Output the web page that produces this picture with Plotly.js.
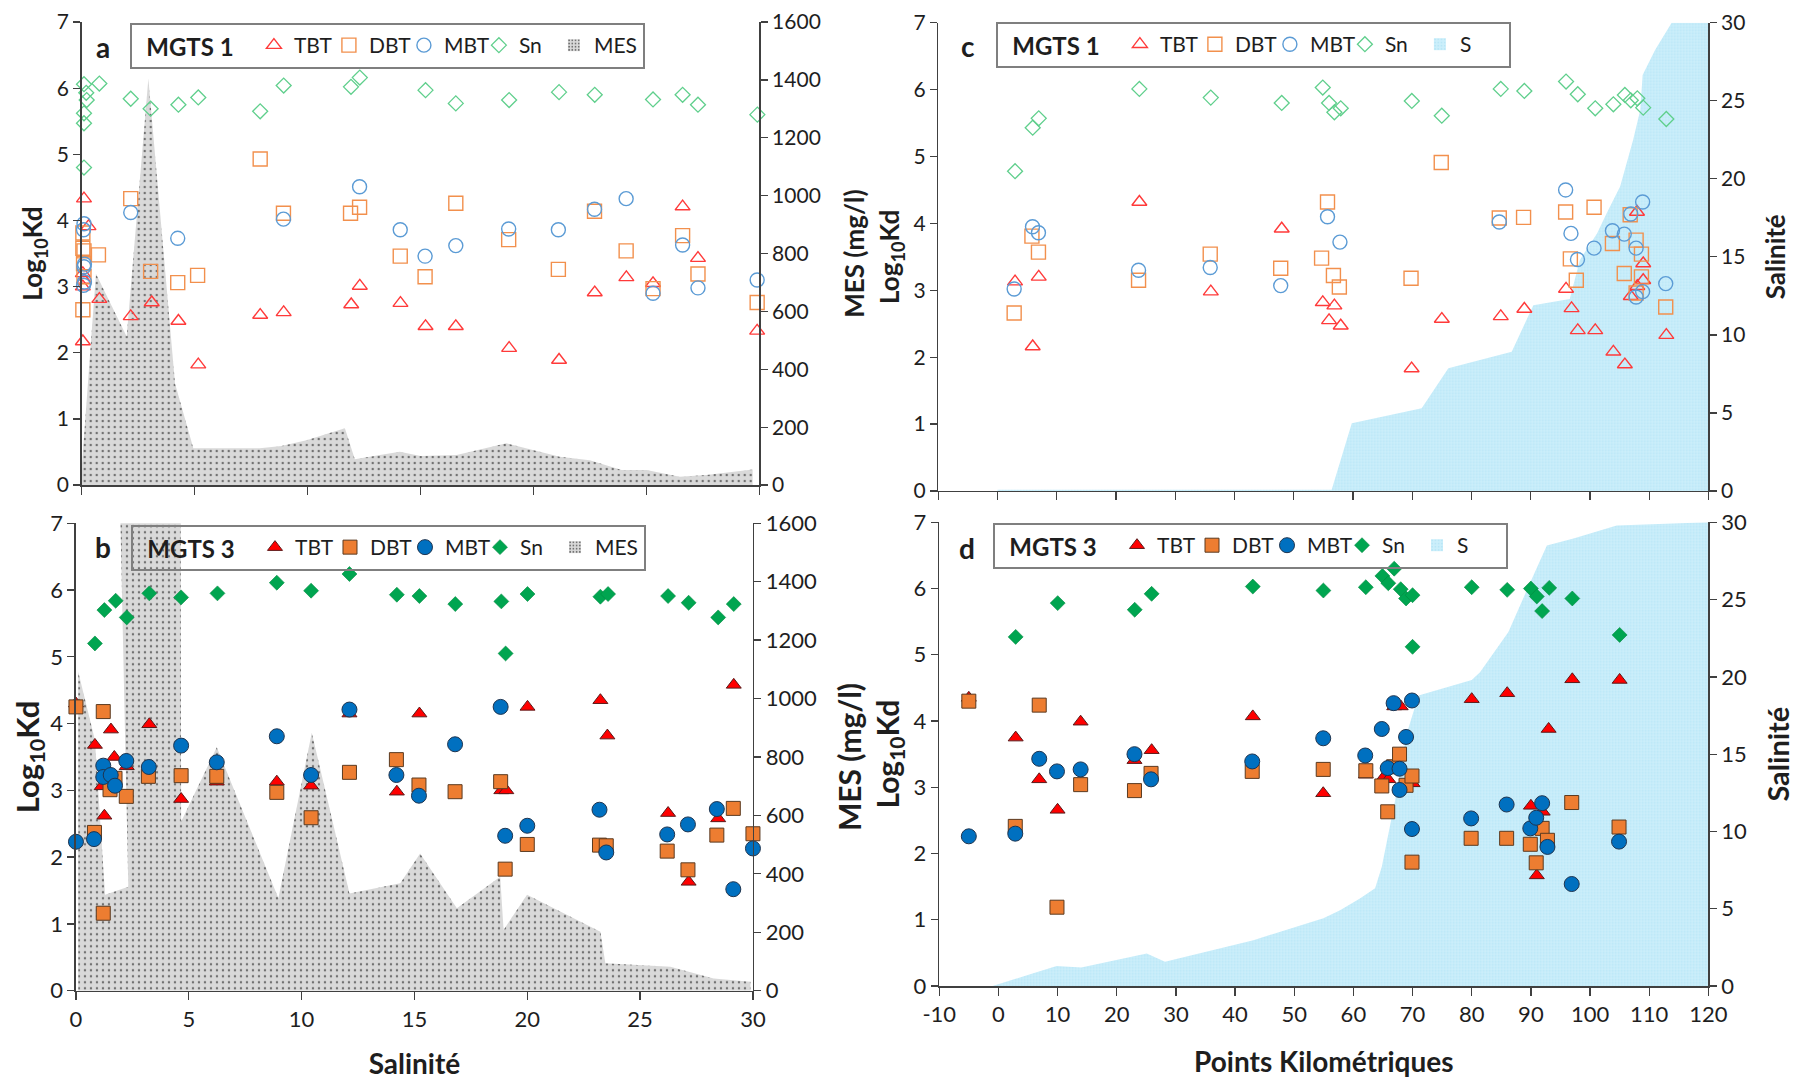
<!DOCTYPE html>
<html>
<head>
<meta charset="utf-8">
<script src="https://cdn.plot.ly/plotly-3.0.1.min.js"></script>
<style>html,body{margin:0;padding:0;background:#fff;}#chart{width:1800px;height:1080px;}</style>
</head>
<body>
<div id="chart"></div>
<script>
// ---------- Panel a : MGTS 1 vs salinity ----------
const aTBT_x = [0.10,0.30,0.05,0.10,0.05,0.05,0.78,2.17,3.10,4.28,5.16,7.90,8.94,11.93,12.31,14.11,15.22,16.56,18.92,21.13,22.71,24.11,25.29,26.60,27.28,29.90];
const aTBT_y = [4.33,3.91,3.20,3.10,3.00,2.17,2.81,2.55,2.76,2.48,1.82,2.57,2.61,2.73,3.01,2.75,2.40,2.40,2.07,1.89,2.91,3.14,3.05,4.21,3.43,2.33];
const aDBT_x = [0.05,0.05,0.10,0.08,0.10,0.05,0.74,2.17,3.05,4.25,5.13,7.90,8.93,11.90,12.30,14.10,15.20,16.56,18.90,21.10,22.70,24.10,25.29,26.60,27.28,29.90];
const aDBT_y = [3.81,3.58,3.54,3.35,3.15,2.65,3.48,4.33,3.23,3.06,3.17,4.93,4.11,4.11,4.20,3.46,3.15,4.26,3.71,3.26,4.14,3.54,2.97,3.77,3.19,2.76];
const aMBT_x = [0.10,0.08,0.12,0.10,0.12,0.08,2.17,4.25,8.93,12.30,14.10,15.20,16.56,18.90,21.10,22.70,24.10,25.29,26.60,27.28,29.90];
const aMBT_y = [3.95,3.86,3.34,3.30,3.07,3.02,4.12,3.73,4.02,4.51,3.86,3.46,3.62,3.87,3.86,4.17,4.33,2.90,3.63,2.98,3.10];
const aSn_x = [0.10,0.20,0.22,0.10,0.10,0.10,0.78,2.17,3.05,4.28,5.16,7.90,8.94,11.92,12.31,15.22,16.56,18.92,21.13,22.71,25.29,26.60,27.28,29.91];
const aSn_y = [6.06,5.93,5.82,5.62,5.47,4.80,6.07,5.84,5.69,5.75,5.86,5.65,6.04,6.02,6.16,5.97,5.77,5.82,5.94,5.90,5.83,5.90,5.75,5.60];
const aMES_x = [0.00,0.63,1.99,2.95,4.13,4.94,7.88,8.84,9.95,11.65,12.09,13.20,14.08,15.00,16.60,18.80,21.16,22.49,23.90,25.00,26.47,27.65,29.70];
const aMES_y = [60,730,513,1405,351,127,127,135,155,196,89,104,115,100,104,144,98,86,52,52,29,35,54];

// ---------- Panel b : MGTS 3 vs salinity ----------
const bTBT_x = [0.00,0.84,1.55,1.70,2.25,1.26,1.14,3.25,4.66,6.24,8.90,10.42,12.12,14.22,15.22,18.85,19.07,20.01,23.24,23.55,26.24,27.15,28.46,29.15,30.04];
const bTBT_y = [4.30,3.68,3.91,3.50,3.36,2.62,3.06,3.99,2.87,3.13,3.13,3.07,4.15,2.98,4.15,3.00,3.00,4.25,4.35,3.82,2.66,1.63,2.58,4.58,4.58];
const bDBT_x = [0.00,0.82,1.21,1.21,1.73,1.51,2.23,3.21,4.66,6.24,8.90,10.42,12.12,14.20,15.20,16.80,18.82,19.02,20.00,23.20,23.50,26.20,27.12,28.40,29.13,30.00];
const bDBT_y = [4.25,2.37,4.18,1.16,3.18,3.01,2.91,3.21,3.22,3.21,2.97,2.59,3.27,3.46,3.08,2.98,3.13,1.82,2.19,2.18,2.17,2.09,1.81,2.33,2.73,2.35];
const bMBT_x = [0.00,0.80,1.21,1.21,1.54,1.73,2.23,3.23,4.66,6.24,8.90,10.42,12.12,14.20,15.20,16.80,18.82,19.02,20.00,23.20,23.50,26.20,27.12,28.40,29.13,30.00];
const bMBT_y = [2.23,2.27,3.37,3.20,3.23,3.07,3.44,3.35,3.67,3.42,3.81,3.23,4.21,3.23,2.92,3.69,4.25,2.32,2.47,2.71,2.07,2.34,2.49,2.72,1.52,2.13];
const bSn_x = [0.84,1.26,1.76,2.25,3.25,4.66,6.27,8.90,10.42,12.12,14.22,15.22,16.81,18.85,19.04,20.01,23.24,23.58,26.24,27.15,28.46,29.15,30.04];
const bSn_y = [5.20,5.70,5.84,5.59,5.95,5.89,5.95,6.11,5.99,6.24,5.93,5.91,5.79,5.83,5.05,5.94,5.90,5.94,5.91,5.81,5.59,5.79,5.24];
const bMES_x = [0.10,0.84,1.29,2.32,1.93,4.64,4.66,6.24,8.97,10.45,12.12,14.37,15.25,16.88,18.80,18.95,19.99,23.24,23.46,26.34,28.26,29.89];
const bMES_y = [1092,858,328,356,1750,1750,578,833,316,883,333,368,470,282,390,208,328,202,94,82,42,31];

// ---------- Panel c : MGTS 1 vs kilometric points ----------
const cTBT_x = [2.95,5.93,6.95,23.94,36.0,47.97,54.9,55.96,56.86,57.93,69.9,75.0,84.95,88.93,95.97,96.9,97.95,100.9,103.96,105.9,106.9,107.95,108.0,109.0,109.0,112.9];
const cTBT_y = [3.13,2.16,3.20,4.32,2.98,3.92,2.82,2.55,2.77,2.47,1.83,2.57,2.61,2.72,3.02,2.73,2.40,2.40,2.08,1.89,2.91,4.17,3.06,3.40,3.15,2.33];
const cDBT_x = [2.8,5.8,6.9,23.8,35.9,47.8,55.7,54.7,56.7,57.7,69.8,74.9,84.7,88.8,95.9,96.7,97.7,100.7,103.8,105.8,106.8,107.8,108.7,108.7,107.8,112.8];
const cDBT_y = [2.66,3.81,3.57,3.15,3.54,3.33,4.32,3.48,3.22,3.05,3.18,4.91,4.08,4.09,4.17,3.47,3.15,4.24,3.70,3.25,4.13,3.75,3.54,3.20,2.96,2.75];
const cMBT_x = [2.8,5.9,6.9,23.8,35.9,47.8,55.7,57.8,84.7,95.9,96.8,97.9,100.7,103.8,105.8,106.9,108.9,107.8,107.8,108.9,112.8];
const cMBT_y = [3.02,3.95,3.86,3.30,3.34,3.07,4.10,3.72,4.02,4.50,3.85,3.46,3.63,3.89,3.84,4.14,4.32,3.63,2.90,2.98,3.10];
const cSn_x = [2.95,5.93,6.95,23.94,35.99,47.97,54.9,55.96,56.86,57.93,69.93,74.99,84.95,88.93,95.97,97.95,100.9,103.96,105.9,106.9,108.0,109.0,112.9];
const cSn_y = [4.78,5.43,5.57,6.01,5.88,5.80,6.03,5.80,5.66,5.72,5.83,5.61,6.01,5.98,6.12,5.93,5.72,5.78,5.92,5.84,5.87,5.73,5.56];
const cS_x = [0,56.4,59.8,71.6,76.1,86.8,90.45,96.6,98.3,101.2,102.85,105.1,107.3,108.5,108.9,111.0,113.8,120];
const cS_y = [0.08,0.08,4.34,5.3,7.86,8.92,11.9,12.3,14.8,16.5,17.8,19.5,22.5,24.4,26.65,28.25,30,30];

// ---------- Panel d : MGTS 3 vs kilometric points ----------
const dTBT_x = [-5,2.92,6.9,10.0,13.9,23.0,25.9,43.0,54.9,62.1,65.0,65.9,66.9,68.0,70.0,80.0,86.0,90.0,91.0,92.0,93.0,97.0,105.0];
const dTBT_y = [4.35,3.75,3.12,2.66,3.99,3.41,3.56,4.07,2.91,3.19,3.14,3.12,4.22,4.22,3.06,4.33,4.42,2.72,1.67,2.63,3.88,4.63,4.62];
const dDBT_x = [-5,2.85,6.9,9.9,13.9,23.0,25.8,42.9,54.9,62.1,64.8,65.8,66.8,67.8,68.9,69.9,69.9,79.9,85.9,89.9,91.9,92.8,90.9,96.9,104.9];
const dDBT_y = [4.30,2.41,4.24,1.19,3.04,2.95,3.21,3.24,3.27,3.25,3.02,2.63,3.31,3.50,3.03,3.17,1.87,2.23,2.23,2.14,2.38,2.20,1.86,2.77,2.40];
const dMBT_x = [-5,2.85,6.9,9.9,13.9,23.0,25.8,42.9,54.9,62.0,64.8,65.8,66.8,67.8,67.8,68.9,69.9,69.9,79.9,85.9,89.9,90.9,91.9,92.8,96.9,104.9];
const dMBT_y = [2.26,2.30,3.43,3.24,3.27,3.50,3.12,3.39,3.74,3.48,3.88,3.29,4.27,3.28,2.96,3.76,4.31,2.37,2.53,2.74,2.38,2.54,2.76,2.10,1.54,2.18];
const dSn_x = [2.92,10.02,23.04,25.9,43.0,54.93,62.1,64.9,65.9,66.9,68.0,68.9,70.0,70.0,80.0,86.0,90.0,91.0,91.9,93.1,97.0,105.0];
const dSn_y = [5.27,5.78,5.68,5.92,6.03,5.97,6.02,6.19,6.08,6.30,5.99,5.85,5.90,5.12,6.02,5.98,6.00,5.88,5.66,6.01,5.85,5.30];
const dS_x = [-1,5.9,9.85,14,25.07,28.16,43.1,54.93,57.75,61.1,63.67,64.8,67.05,69.0,71.0,80.0,81.4,86.2,89.3,92.7,97.2,104.5,120];
const dS_y = [0,0.82,1.29,1.2,2.11,1.57,2.97,4.38,4.91,5.67,6.32,7.71,12.0,16.3,18.8,19.8,20.3,22.9,25.6,28.5,28.95,29.8,30];

// ---------- tick labels ----------
const salTicks = [0,5,10,15,20,25,30];
const salTickText = ['0','5','10','15','20','25','30'];
const kmTicks = [-10,0,10,20,30,40,50,60,70,80,90,100,110,120];
const kmTickText = ['-10','0','10','20','30','40','50','60','70','80','90','100','110','120'];

// ---------- styling ----------
const FONT = 'Lato, "Open Sans", sans-serif';
const TXT = '#1e1e1e';
const AX = '#404040';
const NB = '\u00a0';

const openSty = {
  TBT: {symbol:'triangle-up-open', size:13, color:'#ff3a3a', line:{width:1.4, color:'#ff3a3a'}},
  DBT: {symbol:'square-open', size:14, color:'#f2904d', line:{width:1.4, color:'#f2904d'}},
  MBT: {symbol:'circle-open', size:14, color:'#5b9bd5', line:{width:1.4, color:'#5b9bd5'}},
  Sn:  {symbol:'diamond-open', size:11.5, color:'#5fcf8c', line:{width:1.3, color:'#5fcf8c'}}
};
const fillSty = {
  TBT: {symbol:'triangle-up', size:13, color:'#ff0000', line:{width:1, color:'#5a1a1a'}},
  DBT: {symbol:'square', size:14, color:'#ed7d31', line:{width:1, color:'#5a3a20'}},
  MBT: {symbol:'circle', size:15, color:'#0070c0', line:{width:1, color:'#1f3550'}},
  Sn:  {symbol:'diamond', size:11.5, color:'#00a550', line:{width:0.6, color:'#008a40'}}
};
const MESC = {bg:'#d9d9d9', fg:'#6e6e6e', size:6, sol:0.12};
const SC = {bg:'#cceffb', fg:'#b8e6f7', size:3, sol:0.3};

function pts(name, xs, ys, xa, ya, sty, leg) {
  return {type:'scatter', mode:'markers', name:name, x:xs, y:ys, xaxis:xa, yaxis:ya,
          marker:sty, legend:leg, legendwidth:30, cliponaxis:false, hoverinfo:'x+y'};
}
function area(name, xs, ys, xa, ya, c, leg) {
  return {type:'scatter', mode:'none', name:name, x:xs, y:ys, xaxis:xa, yaxis:ya, fill:'tozeroy',
          fillcolor:c.bg, fillpattern:{shape:'.', bgcolor:c.bg, fgcolor:c.fg, size:c.size, solidity:c.sol},
          line:{width:0}, legend:leg, showlegend:false};
}
// legend swatch (no data drawn) so the legend shows a rectangle like the reference
function swatch(name, xa, ya, c, leg) {
  return {type:'bar', name:name, x:[null], y:[null], xaxis:xa, yaxis:ya, legend:leg, legendrank:2000, legendwidth:44,
          marker:{color:c.bg, line:{width:0}, pattern:{shape:'.', bgcolor:c.bg, fgcolor:c.fg, size:4, solidity:0.25}}};
}

const data = [
  area('MES', aMES_x, aMES_y, 'x', 'y', MESC, 'legend'),
  area('MES', bMES_x, bMES_y, 'x2', 'y3', MESC, 'legend2'),
  area('S', cS_x, cS_y, 'x3', 'y5', SC, 'legend3'),
  area('S', dS_x, dS_y, 'x4', 'y7', SC, 'legend4'),

  pts('TBT', aTBT_x, aTBT_y, 'x', 'y2', openSty.TBT, 'legend'),
  pts('DBT', aDBT_x, aDBT_y, 'x', 'y2', openSty.DBT, 'legend'),
  pts('MBT', aMBT_x, aMBT_y, 'x', 'y2', openSty.MBT, 'legend'),
  pts('Sn',  aSn_x,  aSn_y,  'x', 'y2', openSty.Sn,  'legend'),
  swatch('MES', 'x', 'y', MESC, 'legend'),

  pts('TBT', bTBT_x, bTBT_y, 'x2', 'y4', fillSty.TBT, 'legend2'),
  pts('DBT', bDBT_x, bDBT_y, 'x2', 'y4', fillSty.DBT, 'legend2'),
  pts('MBT', bMBT_x, bMBT_y, 'x2', 'y4', fillSty.MBT, 'legend2'),
  pts('Sn',  bSn_x,  bSn_y,  'x2', 'y4', fillSty.Sn,  'legend2'),
  swatch('MES', 'x2', 'y3', MESC, 'legend2'),

  pts('TBT', cTBT_x, cTBT_y, 'x3', 'y6', openSty.TBT, 'legend3'),
  pts('DBT', cDBT_x, cDBT_y, 'x3', 'y6', openSty.DBT, 'legend3'),
  pts('MBT', cMBT_x, cMBT_y, 'x3', 'y6', openSty.MBT, 'legend3'),
  pts('Sn',  cSn_x,  cSn_y,  'x3', 'y6', openSty.Sn,  'legend3'),
  swatch('S', 'x3', 'y5', SC, 'legend3'),

  pts('TBT', dTBT_x, dTBT_y, 'x4', 'y8', fillSty.TBT, 'legend4'),
  pts('DBT', dDBT_x, dDBT_y, 'x4', 'y8', fillSty.DBT, 'legend4'),
  pts('MBT', dMBT_x, dMBT_y, 'x4', 'y8', fillSty.MBT, 'legend4'),
  pts('Sn',  dSn_x,  dSn_y,  'x4', 'y8', fillSty.Sn,  'legend4'),
  swatch('S', 'x4', 'y7', SC, 'legend4')
];

function xax(domain, anchor, range, tv, tt, labels, title, fs) {
  return {domain:domain, anchor:anchor, range:range, tickmode:'array', tickvals:tv, ticktext:tt,
          showgrid:false, zeroline:false,
          showline:true, linecolor:AX, linewidth:1.5, ticks:'outside', ticklen:8, tickwidth:1.3, tickcolor:AX,
          showticklabels:labels, tickfont:{family:FONT, size:fs, color:TXT}, automargin:false,
          title: title ? {text:'<b>'+title+'</b>', font:{family:FONT, size:fs+6, color:TXT}, standoff:26} : undefined,
          fixedrange:true};
}
function yax(extra, fs, tfs, title, standoff) {
  return Object.assign({showgrid:false, zeroline:false, showline:true, linecolor:AX, linewidth:1.5,
          ticks:'outside', ticklen:7, tickwidth:1.3, tickcolor:AX, automargin:false,
          tickfont:{family:FONT, size:fs, color:TXT},
          title:{text:title, font:{family:FONT, size:tfs, color:TXT}, standoff:standoff}, fixedrange:true}, extra);
}
const KD = '<b>Log<sub>10</sub>Kd</b>';

function leg(x, y, title) {
  return {x:x, y:y, xanchor:'left', yanchor:'top', orientation:'h', bgcolor:'rgba(0,0,0,0)',
          bordercolor:'#7f7f7f', borderwidth:2, font:{family:FONT, size:21, color:TXT},
          title:{text:NB+NB+'<b>'+title+'</b>'+NB+NB, side:'left', font:{family:FONT, size:24, color:TXT}},
          itemwidth:30, traceorder:'normal', valign:'middle'};
}

const layout = {
  width:1800, height:1080, margin:{l:0, r:0, t:0, b:0}, paper_bgcolor:'#fff', plot_bgcolor:'rgba(0,0,0,0)',
  font:{family:FONT, color:TXT}, showlegend:true, barmode:'overlay',
  xaxis:  xax([0.0454,0.4219], 'y', [0,30], salTicks, salTickText, false, null, 21),
  xaxis2: xax([0.0422,0.4183], 'y3', [0,30], salTicks, salTickText, true, 'Salinité', 22),
  xaxis3: xax([0.5213,0.9491], 'y5', [-10,120], kmTicks, kmTickText, false, null, 21),
  xaxis4: xax([0.5218,0.9491], 'y7', [-10,120], kmTicks, kmTickText, true, 'Points Kilométriques', 22),

  yaxis:  yax({domain:[0.5509,0.9796], anchor:'x', side:'right', range:[0,1600], dtick:200}, 21, 26, '<b>MES (mg/l)</b>', 26),
  yaxis2: yax({overlaying:'y', anchor:'x', side:'left', range:[0,7], dtick:1}, 21, 26, KD, 6),
  yaxis3: yax({domain:[0.0827,0.5155], anchor:'x2', side:'right', range:[0,1600], dtick:200}, 22, 30, '<b>MES (mg/l)</b>', 24),
  yaxis4: yax({overlaying:'y3', anchor:'x2', side:'left', range:[0,7], dtick:1}, 22, 31, KD, 0),
  yaxis5: yax({domain:[0.5454,0.979], anchor:'x3', side:'right', range:[0,30], dtick:5}, 21, 26, '<b>Salinité</b>', 22),
  yaxis6: yax({overlaying:'y5', anchor:'x3', side:'left', range:[0,7], dtick:1}, 21, 26, KD, 6),
  yaxis7: yax({domain:[0.087,0.5164], anchor:'x4', side:'right', range:[0,30], dtick:5}, 22, 29, '<b>Salinité</b>', 22),
  yaxis8: yax({overlaying:'y7', anchor:'x4', side:'left', range:[0,7], dtick:1}, 22, 30, KD, 5),

  legend:  leg(0.0722, 0.9787, 'MGTS 1'),
  legend2: leg(0.0728, 0.5139, 'MGTS 3'),
  legend3: leg(0.5533, 0.9796, 'MGTS 1'),
  legend4: leg(0.5517, 0.5157, 'MGTS 3'),

  annotations: [
    {text:'<b>a</b>', x:0.0572, y:0.9565},
    {text:'<b>b</b>', x:0.0572, y:0.4935},
    {text:'<b>c</b>', x:0.5378, y:0.9574},
    {text:'<b>d</b>', x:0.5372, y:0.4926}
  ].map(a => Object.assign(a, {xref:'paper', yref:'paper', xanchor:'center', yanchor:'middle', showarrow:false,
                               font:{family:FONT, size:28, color:TXT}}))
};

Plotly.newPlot('chart', data, layout, {staticPlot:true, displayModeBar:false});
</script>
</body>
</html>
